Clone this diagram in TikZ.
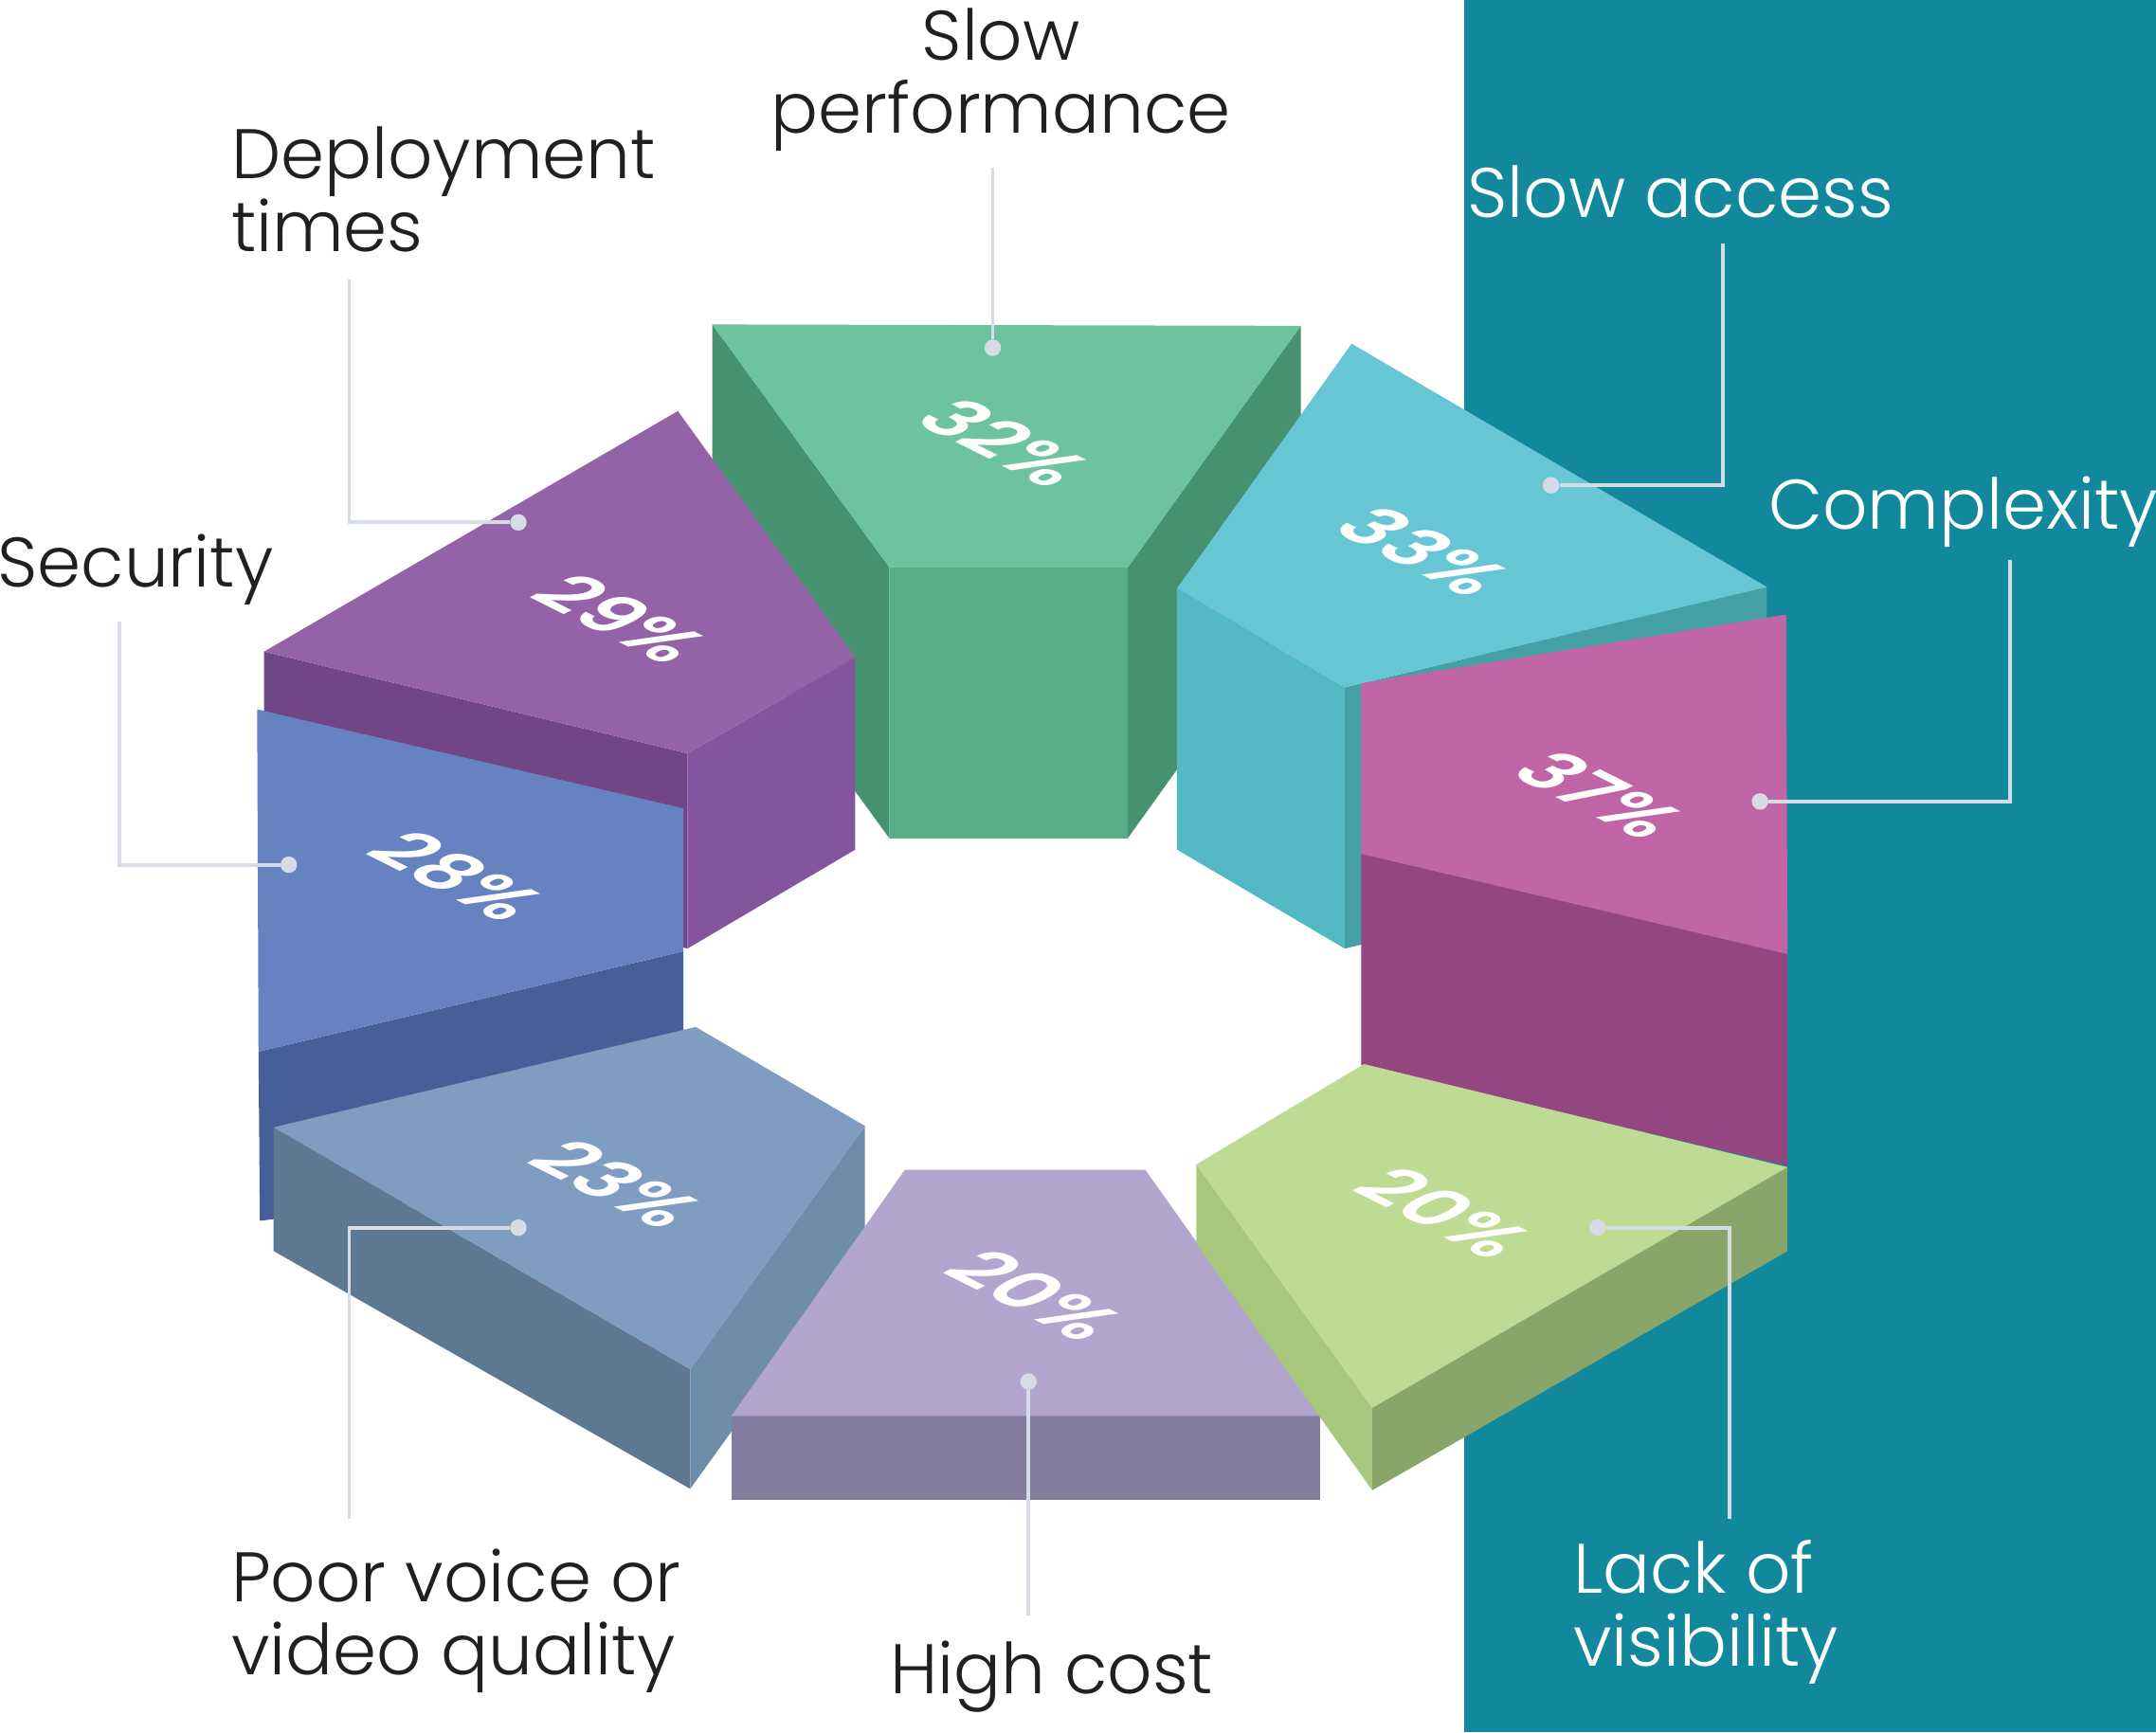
\documentclass[tikz,border=0pt]{standalone}
\usepackage{fontspec}
\setmainfont{Poppins Light}
\newfontfamily\pctfont{Poppins SemiBold}
\usetikzlibrary{positioning}

\definecolor{ink}{HTML}{231F20}
\definecolor{lead}{HTML}{D5DCE6}
\definecolor{tealbg}{HTML}{11889B}
\definecolor{gTop}{HTML}{6DC3A0}
\definecolor{gFront}{HTML}{56AD87}
\definecolor{gSide}{HTML}{46916F}
\definecolor{cTop}{HTML}{67C6D4}
\definecolor{cLeft}{HTML}{51B8C4}
\definecolor{cRight}{HTML}{459FA7}
\definecolor{mTop}{HTML}{C066A6}
\definecolor{mLow}{HTML}{93467F}
\definecolor{pTop}{HTML}{9462A6}
\definecolor{pFront}{HTML}{704687}
\definecolor{pRight}{HTML}{84559D}
\definecolor{bFront}{HTML}{6682C0}
\definecolor{bLow}{HTML}{465F98}
\definecolor{sTop}{HTML}{7F9DC0}
\definecolor{sLeft}{HTML}{5E7891}
\definecolor{sRight}{HTML}{6E8DAB}
\definecolor{lTop}{HTML}{B2A6CF}
\definecolor{lFront}{HTML}{827C9F}
\definecolor{yTop}{HTML}{BDDB93}
\definecolor{yLeft}{HTML}{A7C77C}
\definecolor{yRight}{HTML}{89A66A}

\begin{document}
\begin{tikzpicture}[x=1pt, y=-1pt,
    lbl/.style={font=\fontsize{51}{53}\selectfont, text=ink, inner sep=0pt, anchor=base west, align=left},
    pct/.style={font=\pctfont\fontsize{56}{56}\selectfont, text=white, inner sep=0pt, cm={0.894,-0.447,0.894,0.447,(0,0)}},
    leader/.style={draw=lead, line width=2.6pt},
    dot/.style={circle, fill=lead, inner sep=0pt, minimum size=12pt}]
    \useasboundingbox (0,0) rectangle (1568,1260);

    % Teal panel on the right
    \fill[tealbg] (1065,0) rectangle (1568,1260);

    % Slow performance block
    \fill[gSide] (518,236) -- (647,413) -- (647,610) -- (518,433) -- cycle;
    \fill[gSide] (946,237) -- (820,413) -- (820,610) -- (946,434) -- cycle;
    \fill[gFront] (647,413) -- (820,413) -- (820,610) -- (647,610) -- cycle;
    \fill[gTop] (518,236) -- (946,237) -- (820,413) -- (647,413) -- cycle;

    % Slow access block
    \fill[cRight] (978,500) -- (1285,427) -- (1285,617) -- (978,690) -- cycle;
    \fill[cLeft] (856,428) -- (978,500) -- (978,690) -- (856,618) -- cycle;
    \fill[cTop] (983,250) -- (1285,427) -- (978,500) -- (856,428) -- cycle;

    % Complexity block
    \fill[mLow] (990,621) -- (1300,694) -- (1300,848) -- (990,775) -- cycle;
    \fill[mTop] (990,497) -- (1299,447) -- (1300,694) -- (990,621) -- cycle;

    % Deployment times block
    \fill[pFront] (192,474) -- (500,548) -- (500,690) -- (192,616) -- cycle;
    \fill[pRight] (500,548) -- (622,478) -- (622,618) -- (500,690) -- cycle;
    \fill[pTop] (192,474) -- (493,299) -- (622,478) -- (500,548) -- cycle;

    % Security block
    \fill[bLow] (188,765) -- (497,692) -- (497,850) -- (189,888) -- cycle;
    \fill[bFront] (187,516) -- (497,588) -- (497,692) -- (188,765) -- cycle;

    % Poor voice or video quality block
    \fill[sLeft] (199,820) -- (502,996) -- (502,1083) -- (199,910) -- cycle;
    \fill[sRight] (502,996) -- (629,819) -- (629,906) -- (502,1083) -- cycle;
    \fill[sTop] (199,820) -- (506,747) -- (629,819) -- (502,996) -- cycle;

    % High cost block
    \fill[lFront] (532,1030) -- (960,1030) -- (960,1091) -- (532,1091) -- cycle;
    \fill[lTop] (658,851) -- (833,851) -- (960,1030) -- (532,1030) -- cycle;

    % Lack of visibility block
    \fill[yLeft] (870,847) -- (998,1024) -- (998,1084) -- (870,905) -- cycle;
    \fill[yRight] (998,1024) -- (1300,849) -- (1300,910) -- (998,1084) -- cycle;
    \fill[yTop] (870,847) -- (992,774) -- (1300,849) -- (998,1024) -- cycle;

    % Percentages
    \node[pct] (p32) at (731,322) {32\%};
    \node[pct] (p33) at (1036,401) {33\%};
    \node[pct] (p37) at (1164,578) {37\%};
    \node[pct] (p29) at (452,450) {29\%};
    \node[pct] (p28) at (333,637) {28\%};
    \node[pct] (p23) at (449,861) {23\%};
    \node[pct] (p20a) at (753,942) {20\%};
    \node[pct] (p20b) at (1051,882) {20\%};

    % Labels (base anchor sits on the last line)
    \node[lbl, anchor=base, align=center] (tSlow) at (728,97) {Slow\\performance};
    \node[lbl] (tDeploy) at (168,183) {Deployment\\times};
    \node[lbl] (tSec) at (-2,427) {Security};
    \node[lbl, text=white] (tAccess) at (1067,158) {Slow access};
    \node[lbl, text=white] (tComplex) at (1286,385) {Complexity};
    \node[lbl] (tVoice) at (168,1218) {Poor voice or\\video quality};
    \node[lbl] (tCost) at (647,1232) {High cost};
    \node[lbl, text=white] (tVis) at (1144,1212) {Lack of\\visibility};

    % Leader lines
    \coordinate (e32) at (722,122);
    \coordinate (e29) at (254,203);
    \coordinate (e28) at (87,452);
    \coordinate (e33) at (1253,177);
    \coordinate (e37) at (1462,407);
    \coordinate (e23) at (254,1105);
    \coordinate (e20a) at (748,1175);
    \coordinate (e20b) at (1258,1105);
    \node[dot] (d32) at (722,253) {};
    \node[dot] (d29) at (377,380) {};
    \node[dot] (d28) at (210,629) {};
    \node[dot] (d33) at (1128,353) {};
    \node[dot] (d37) at (1280,583) {};
    \node[dot] (d23) at (377,893) {};
    \node[dot] (d20a) at (748,1005) {};
    \node[dot] (d20b) at (1162,893) {};
    \draw[leader] (d32) -- (e32);
    \draw[leader] (d29) -| (e29);
    \draw[leader] (d28) -| (e28);
    \draw[leader] (d33) -| (e33);
    \draw[leader] (d37) -| (e37);
    \draw[leader] (d23) -| (e23);
    \draw[leader] (d20a) -- (e20a);
    \draw[leader] (d20b) -| (e20b);
\end{tikzpicture}
\end{document}
